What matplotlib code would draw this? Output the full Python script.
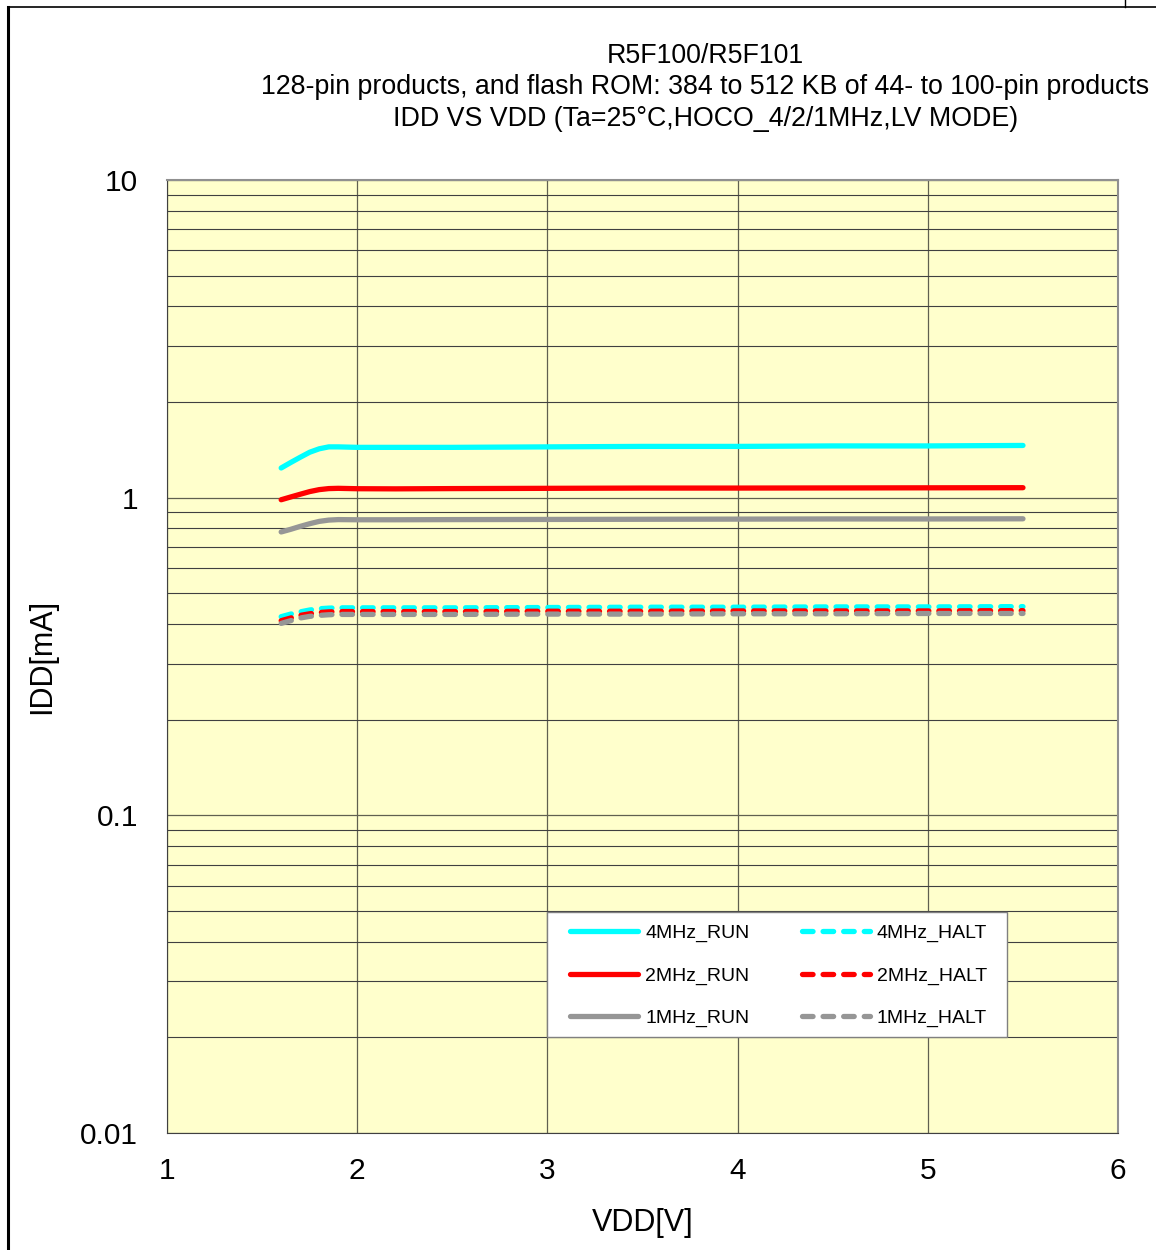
import matplotlib

matplotlib.use("Agg")
import matplotlib.pyplot as plt
from matplotlib.lines import Line2D
from matplotlib.patches import Rectangle
from matplotlib.ticker import FixedLocator, LogLocator, NullFormatter

plt.rcParams["font.family"] = ["Liberation Sans", "DejaVu Sans"]

vdd = [1.6, 1.65, 1.7, 1.75, 1.8, 1.85, 1.9, 2.0, 2.2, 2.5, 3.0, 3.5, 4.0, 4.5, 5.0, 5.5]
run_4mhz = [1.24, 1.29, 1.34, 1.39, 1.425, 1.445, 1.445, 1.44, 1.44, 1.44, 1.445, 1.45, 1.45, 1.455, 1.455, 1.46]
run_2mhz = [0.985, 1.005, 1.025, 1.045, 1.06, 1.068, 1.07, 1.067, 1.066, 1.068, 1.07, 1.072, 1.072, 1.073, 1.074, 1.075]
run_1mhz = [0.78, 0.795, 0.812, 0.828, 0.842, 0.85, 0.853, 0.852, 0.852, 0.853, 0.854, 0.855, 0.856, 0.857, 0.857, 0.858]
halt_4mhz = [0.422, 0.43, 0.437, 0.443, 0.447, 0.449, 0.45, 0.45, 0.45, 0.45, 0.451, 0.452, 0.452, 0.453, 0.453, 0.454]
halt_2mhz = [0.41, 0.418, 0.426, 0.431, 0.435, 0.437, 0.438, 0.438, 0.438, 0.438, 0.439, 0.439, 0.44, 0.44, 0.44, 0.441]
halt_1mhz = [0.402, 0.41, 0.418, 0.423, 0.426, 0.428, 0.429, 0.429, 0.429, 0.429, 0.43, 0.43, 0.431, 0.431, 0.432, 0.432]

series = [
    ("4MHz_RUN", run_4mhz, "#00FFFF", "-"),
    ("2MHz_RUN", run_2mhz, "#FF0000", "-"),
    ("1MHz_RUN", run_1mhz, "#969696", "-"),
    ("4MHz_HALT", halt_4mhz, "#00FFFF", "--"),
    ("2MHz_HALT", halt_2mhz, "#FF0000", "--"),
    ("1MHz_HALT", halt_1mhz, "#969696", "--"),
]
title_lines = [
    "R5F100/R5F101",
    "128-pin products, and flash ROM: 384 to 512 KB of 44- to 100-pin products",
    "IDD VS VDD (Ta=25°C,HOCO_4/2/1MHz,LV MODE)",
]

fig = plt.figure(figsize=(11.56, 12.5), dpi=100)
ax = fig.add_axes([0.1445, 0.0936, 0.8227, 0.7624])
ax.set_facecolor("#FFFFCC")

# frame around the whole figure (left + top edge)
fig.add_artist(Line2D([0.007, 0.007], [0.0, 0.9944], color="black", lw=2.2, transform=fig.transFigure))
fig.add_artist(Line2D([0.007, 1.0], [0.9944, 0.9944], color="black", lw=1.2, transform=fig.transFigure))
fig.add_artist(Line2D([0.973, 0.973], [0.9944, 1.0], color="black", lw=1.0, transform=fig.transFigure))

handles = {}
for label, vals, color, ls in series:
    kw = dict(color=color, lw=3.8, solid_capstyle="round", dash_capstyle="round", label=label)
    if ls == "--":
        kw["dashes"] = (2.0, 1.9)
    (h,) = ax.plot(vdd, vals, **kw)
    handles[label] = h

ax.set_yscale("log")
ax.set_xlim(1, 6)
ax.set_ylim(0.01, 10)
ax.xaxis.set_major_locator(FixedLocator([1, 2, 3, 4, 5, 6]))
ax.yaxis.set_major_locator(FixedLocator([0.01, 0.1, 1, 10]))
ax.set_yticklabels(["0.01", "0.1", "1", "10"])
ax.yaxis.set_minor_locator(LogLocator(base=10, subs=range(2, 10)))
ax.yaxis.set_minor_formatter(NullFormatter())
ax.tick_params(which="both", length=0, labelsize=21.5)
ax.tick_params(axis="y", pad=21)
ax.tick_params(axis="x", pad=17.5)
ax.grid(which="major", color="#606050", lw=0.9)
ax.grid(which="minor", axis="y", color="#404040", lw=0.8)
ax.set_axisbelow(True)
for side in ["left", "bottom"]:
    ax.spines[side].set_color("#404040")
for side in ["top", "right"]:
    ax.spines[side].set_color("#909090")
    ax.spines[side].set_linewidth(1.5)

ax.set_xlabel("VDD[V]", fontsize=22, labelpad=16)
ax.set_ylabel("IDD[mA]", fontsize=22, labelpad=16.5)

for i, line in enumerate(title_lines):
    fig.text(0.61, 0.9555 - i * 0.0252, line, ha="center", va="center", fontsize=19.3)

# legend box drawn separately so the inner margins can differ
ax.add_patch(Rectangle((0.3996, 0.1007), 0.4837, 0.1312, transform=ax.transAxes,
                       facecolor="white", edgecolor="#808080", lw=1.0, zorder=4))
order = ["4MHz_RUN", "2MHz_RUN", "1MHz_RUN", "4MHz_HALT", "2MHz_HALT", "1MHz_HALT"]
leg = ax.legend(
    [handles[k] for k in order], order, ncol=2, loc="upper left",
    bbox_to_anchor=(0.4238, 0.2192), fontsize=14, frameon=False,
    handlelength=3.5, handletextpad=0.36,
    columnspacing=2.7, labelspacing=1.28, borderpad=0, borderaxespad=0,
)
leg.set_zorder(5)

fig.savefig("out.png", dpi=100, facecolor="white")
